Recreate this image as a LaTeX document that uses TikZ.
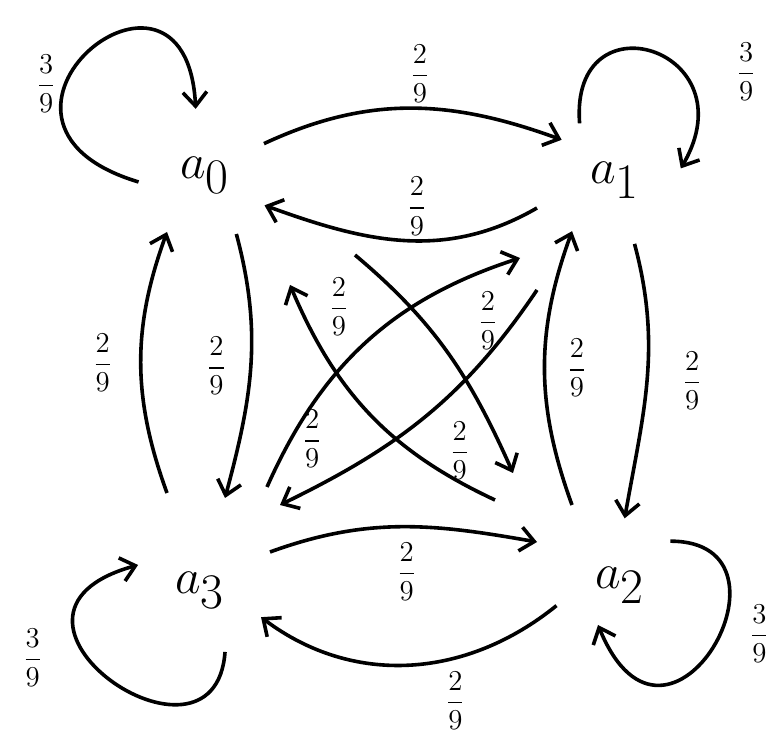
\documentclass[tikz,border=0pt]{standalone}
\usepackage{amsmath}
\usetikzlibrary{arrows.meta, calc}
\tikzset{
    markov/.style={>={Straight Barb[length=7pt, width=12pt]}, line width=1.8pt, x=0.5pt, y=0.5pt},
    state/.style={circle, minimum size=65pt, inner sep=0pt, font=\fontsize{44}{50}\selectfont},
    prob/.style={font=\Large, inner sep=2pt},
}
\begin{document}
\begin{tikzpicture}[markov]
    \useasboundingbox (0,0) rectangle (782,739);

    \node[state] (a0) at (205,564) {$a_0$};
    \node[state] (a1) at (615,559) {$a_1$};
    \node[state] (a2) at (620,154) {$a_2$};
    \node[state] (a3) at (200,149) {$a_3$};

    % top pair
    \draw[->] (a0.28) to[out=25, in=160] node[prob, pos=0.53, above] {$\dfrac{2}{9}$} (a1.143);
    \draw[->] ($(a1)+(-78,-28)$) to[out=-150, in=-20] node[prob, pos=0.45, above] {$\dfrac{2}{9}$} (a0.-27);

    % bottom pair
    \draw[->] ($(a3)+(70,38)$) to[out=20, in=170] node[prob, pos=0.52, below=5pt] {$\dfrac{2}{9}$} ($(a2)+(-83,43)$);
    \draw[->] (a2.198) to[out=-141, in=-37] node[prob, pos=0.35, below=4pt] {$\dfrac{2}{9}$} (a3.-24);

    % left pair
    \draw[->] (a0.-62) to[out=-75, in=75] node[prob, left=9.5pt] {$\dfrac{2}{9}$} ($(a3)+(25,92)$);
    \draw[->] ($(a3)+(-33,97)$) to[out=110, in=-110] node[prob, left=11.5pt] {$\dfrac{2}{9}$} ($(a0)+(-38,-57)$);

    % right pair
    \draw[->] (a1.-73) to[out=-75, in=80] node[prob, right=15pt] {$\dfrac{2}{9}$} (a2.86);
    \draw[->] ($(a2)+(-48,80)$) to[out=110, in=-110] node[prob, right=8.5pt] {$\dfrac{2}{9}$} (a1.230);

    % diagonals
    \draw[->] ($(a0)+(150,-80)$) to[out=-40, in=114] node[prob, pos=0.92, left=14pt] {$\dfrac{2}{9}$} ($(a2)+(-107,112)$);
    \draw[->] ($(a2)+(-125,85)$) to[out=155, in=-67] node[prob, pos=0.93, right=12pt] {$\dfrac{2}{9}$} ($(a0)+(85,-110)$);
    \draw[->] ($(a3)+(67,103)$) to[out=66, in=198] node[prob, pos=0.14, right=3pt] {$\dfrac{2}{9}$} ($(a1)+(-95,-78)$);
    \draw[->] ($(a1)+(-78,-110)$) to[out=-124, in=26] node[prob, pos=0.1, left=6pt] {$\dfrac{2}{9}$} ($(a3)+(80,85)$);

    % self loops
    \draw[->] (a0.186) .. controls +(-200,60) and +(-10,190) .. node[prob, pos=0.37, left=2pt] {$\dfrac{3}{9}$} (a0.98);
    \draw[->] (a1.122) .. controls +(-10,130) and +(70,120) .. node[prob, pos=0.65, right=25pt] {$\dfrac{3}{9}$} (a1.10);
    \draw[->] (a2.41) .. controls +(140,0) and +(70,-170) .. node[prob, pos=0.45, right=12pt] {$\dfrac{3}{9}$} ($(a2)+(-22,-40)$);
    \draw[->] (a3.-68) .. controls +(-10,-140) and +(-180,-50) .. node[prob, pos=0.6, left=20pt] {$\dfrac{3}{9}$} (a3.158);
\end{tikzpicture}
\end{document}
